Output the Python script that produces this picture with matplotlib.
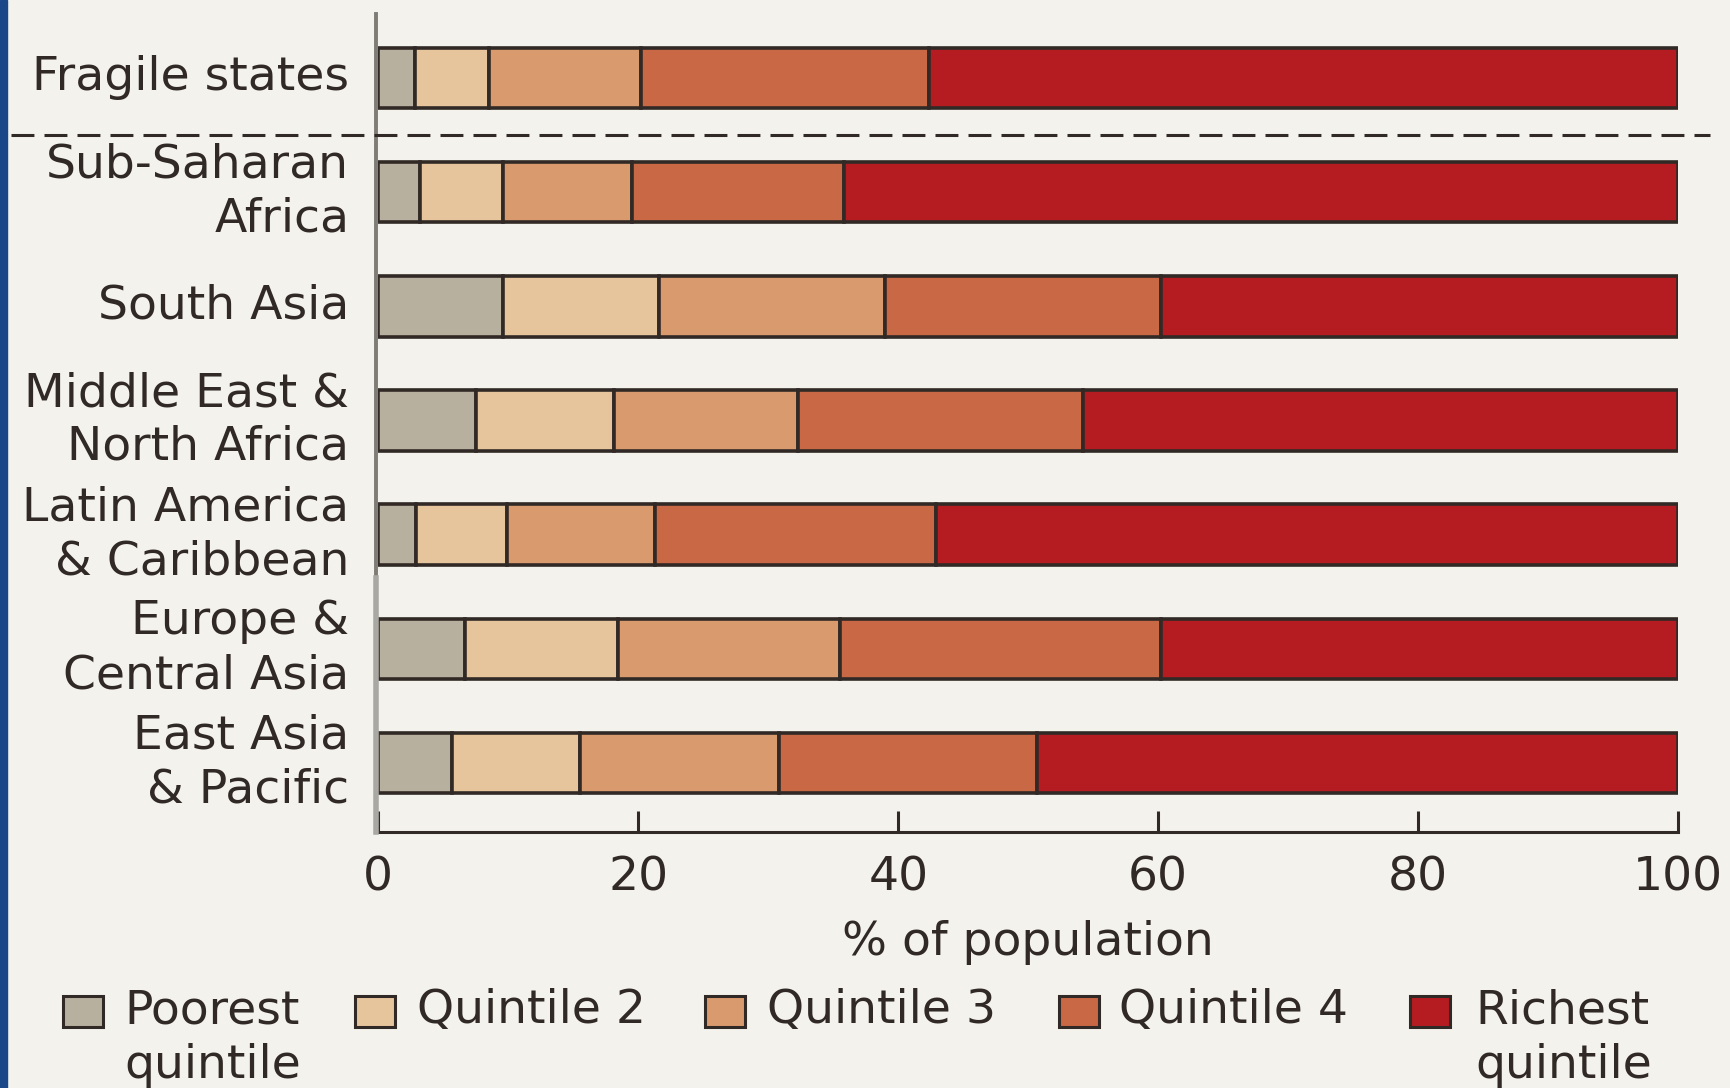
import matplotlib
matplotlib.use("Agg")
import matplotlib.pyplot as plt
from matplotlib.patches import Rectangle
import numpy as np

# regions, top to bottom
regions = [
    "Fragile states",
    "Sub-Saharan\nAfrica",
    "South Asia",
    "Middle East &\nNorth Africa",
    "Latin America\n& Caribbean",
    "Europe &\nCentral Asia",
    "East Asia\n& Pacific",
]

# share of population in each wealth quintile (%)
poorest = [2.8, 3.2, 9.6, 7.5, 2.9, 6.7, 5.7]
quintile2 = [5.7, 6.4, 12.0, 10.6, 7.0, 11.7, 9.8]
quintile3 = [11.7, 9.9, 17.4, 14.2, 11.4, 17.1, 15.3]
quintile4 = [22.2, 16.3, 21.2, 21.9, 21.6, 24.7, 19.9]
richest = [57.6, 64.2, 39.8, 45.8, 57.1, 39.8, 49.3]

series_labels = ["Poorest\nquintile", "Quintile 2", "Quintile 3", "Quintile 4", "Richest\nquintile"]
series_colors = ["#b7b09e", "#e6c49c", "#d99a6e", "#c96844", "#b41c22"]

x_ticks = [0, 20, 40, 60, 80, 100]

bg = "#f3f2ec"
ink = "#312925"
fs = 34

plt.rcParams["font.family"] = ["DejaVu Sans"]

fig = plt.figure(figsize=(17.3, 10.88), dpi=100, facecolor=bg)
ax = fig.add_axes([0.2187, 0.2353, 0.7513, 0.7518], facecolor=bg)

ypos = np.arange(len(regions))[::-1]
series = [poorest, quintile2, quintile3, quintile4, richest]
left = np.zeros(len(regions))
for vals, col in zip(series, series_colors):
    ax.barh(ypos, vals, left=left, height=0.53, color=col,
            edgecolor=ink, linewidth=2.6, zorder=3)
    left += np.array(vals)

ax.set_xlim(0, 100)
ax.set_ylim(-0.604, 6.56)

ax.set_yticks(ypos)
ax.set_yticklabels(regions, fontsize=fs, color=ink, linespacing=1.25)
for lab in ax.get_yticklabels():
    lab.set_va("center")
ax.tick_params(axis="y", length=0, pad=21)

ax.set_xticks(x_ticks)
ax.set_xticklabels([str(t) for t in x_ticks], fontsize=fs, color=ink)
ax.tick_params(axis="x", direction="in", length=15, width=2.2, color=ink, pad=17)
ax.set_xlabel("% of population", fontsize=fs, color=ink, labelpad=14)

for s in ["top", "right", "left"]:
    ax.spines[s].set_visible(False)
ax.spines["bottom"].set_color(ink)
ax.spines["bottom"].set_linewidth(2.2)

# vertical axis line, darker in the upper part
ax.axvline(-0.2, ymin=0.31, ymax=1.0, color="#7f7b75", lw=2.8, zorder=4, clip_on=False)
ax.axvline(-0.2, ymin=0.0, ymax=0.31, color="#aaa8a3", lw=4.0, zorder=4, clip_on=False)

# dashed separator under fragile states
ax.plot([-0.2826, 1.0246], [5.5, 5.5], transform=ax.get_yaxis_transform(),
        color=ink, lw=2.2, dashes=(7.5, 3.3), clip_on=False, zorder=4)

# blue stripe on the left edge
fig.add_artist(Rectangle((0, 0), 7.5 / 1730, 1, transform=fig.transFigure,
                         color="#1a4787", zorder=5))

# legend row
patch_x = [63, 355, 705, 1059, 1410]
text_x = [124, 417, 767, 1119, 1475]
for px, tx, lab, col in zip(patch_x, text_x, series_labels, series_colors):
    fig.add_artist(Rectangle((px / 1730, 1 - 1027 / 1088), 40 / 1730, 31 / 1088,
                             transform=fig.transFigure, facecolor=col,
                             edgecolor=ink, linewidth=2.2))
    fig.text(tx / 1730, 1 - 988 / 1088, lab, fontsize=fs, color=ink,
             ha="left", va="top", linespacing=1.3)

fig.savefig("out.png", dpi=100, facecolor=bg)
